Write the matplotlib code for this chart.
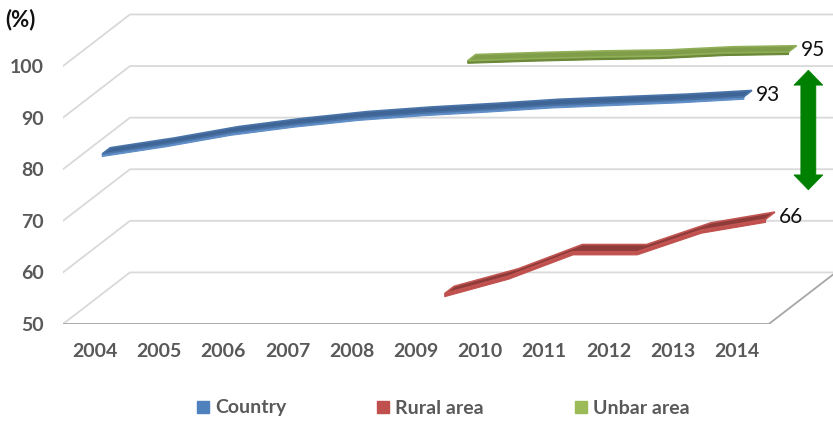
import matplotlib.pyplot as plt
import numpy as np
from matplotlib.patches import Polygon
from matplotlib.lines import Line2D

plt.rcParams['font.family'] = ['Lato', 'DejaVu Sans']

years = [2004, 2005, 2006, 2007, 2008, 2009, 2010, 2011, 2012, 2013, 2014]
country = [81.9, 83.8, 86.0, 87.6, 88.9, 89.8, 90.5, 91.3, 91.8, 92.3, 93.0]
area_years = [2009, 2010, 2011, 2012, 2013, 2014]
rural = [51.6, 55.0, 59.7, 59.7, 63.9, 66.0]
urban = [93.3, 93.7, 94.0, 94.2, 94.8, 95.0]
y_ticks = [50, 60, 70, 80, 90, 100]

# oblique depth axis: one unit of depth moves right by DX categories and up by DY
DX, DY = 1.044, 10.0
TEXT = '#595959'

fig = plt.figure(figsize=(8.33, 4.22), dpi=100)
ax = fig.add_axes([63 / 833, 98 / 422, 770 / 833, 324 / 422])
ax.set_xlim(-0.5, 11.5)
ax.set_ylim(50, 112.8)
for s in ax.spines.values():
    s.set_visible(False)

# back wall gridlines with their slanted side-wall part
for v in y_ticks:
    ax.plot([-0.5, -0.5 + DX, 11.6], [v, v + DY, v + DY], color='#D9D9D9', lw=1.3, zorder=1)
# floor front and right edges
ax.plot([-0.5, 10.5, 10.5 + DX], [50, 50, 50 + DY], color='#A6A6A6', lw=1.3, zorder=2)


def ribbon(xs, vs, depth, top, front, edge, half=0.06, thick=0.5):
    x = np.asarray(xs, float)
    v = np.asarray(vs, float)
    d0, d1 = depth - half, depth + half
    fx, fy = x + DX * d0, v + DY * d0
    bx, by = x + DX * d1, v + DY * d1
    face = np.column_stack([np.r_[fx, fx[::-1]], np.r_[fy, fy[::-1] - thick]])
    ax.add_patch(Polygon(face, closed=True, fc=front, ec=front, lw=0.8, zorder=3))
    lid = np.column_stack([np.r_[fx, bx[::-1]], np.r_[fy, by[::-1]]])
    ax.add_patch(Polygon(lid, closed=True, fc=top, ec=edge, lw=1.2, joinstyle='miter', zorder=4))
    return bx[-1], (fy[-1] + by[-1]) / 2


xi = np.arange(len(years))
ai = np.array([years.index(y) for y in area_years])

gx, gy = ribbon(ai, urban, 5 / 6, '#809D49', '#6A8837', '#91AF58')
rx, ry = ribbon(ai, rural, 1 / 2, '#8E3B39', '#C0504D', '#C25552', half=0.07, thick=0.6)
cx, cy = ribbon(xi, country, 1 / 6, '#3E6595', '#5F8DC6', '#4A74A8')

for (x, y, val) in [(gx, gy, urban[-1]), (rx, ry, rural[-1]), (cx, cy, country[-1])]:
    ax.annotate(f'{val:.0f}', xy=(x, y), xytext=(3, -1), textcoords='offset points',
                ha='left', va='center', fontsize=15, color='#111111')

# double-headed arrow marking the gap between urban and rural
ac, top, bot = 11.116, 99.2, 76.0
hw, sw, hl = 0.226, 0.117, 2.9
arrow = [(ac, top), (ac + hw, top - hl), (ac + sw, top - hl), (ac + sw, bot + hl),
         (ac + hw, bot + hl), (ac, bot), (ac - hw, bot + hl), (ac - sw, bot + hl),
         (ac - sw, top - hl), (ac - hw, top - hl)]
ax.add_patch(Polygon(arrow, closed=True, fc='#008000', ec='#008000', lw=0.5, zorder=5,
                     clip_on=False))

ax.set_xticks(xi)
ax.set_xticklabels([str(y) for y in years])
ax.set_yticks(y_ticks)
ax.set_yticklabels([str(t) for t in y_ticks])
ax.tick_params(axis='x', length=0, pad=14, labelsize=14, labelcolor=TEXT)
ax.tick_params(axis='y', length=0, pad=14, labelsize=14, labelcolor=TEXT)
for lab in ax.get_xticklabels() + ax.get_yticklabels():
    lab.set_fontweight('bold')

fig.text(5 / 833, 1 - 20 / 422, '(%)', ha='left', va='center', fontsize=16,
         fontweight='bold', color='#111111')

handles = [Line2D([], [], marker='s', ls='none', color=c, markersize=9)
           for c in ['#4F81BD', '#C0504D', '#9BBB59']]
leg = fig.legend(handles, ['Country', 'Rural area', 'Unbar area'], loc='center',
                 bbox_to_anchor=(0.531, 1 - 408 / 422), ncol=3, frameon=False,
                 columnspacing=4.6, handletextpad=0.2, handlelength=0.8,
                 prop={'size': 14, 'weight': 'bold'})
for t in leg.get_texts():
    t.set_color(TEXT)

fig.savefig('out.png', dpi=100)
